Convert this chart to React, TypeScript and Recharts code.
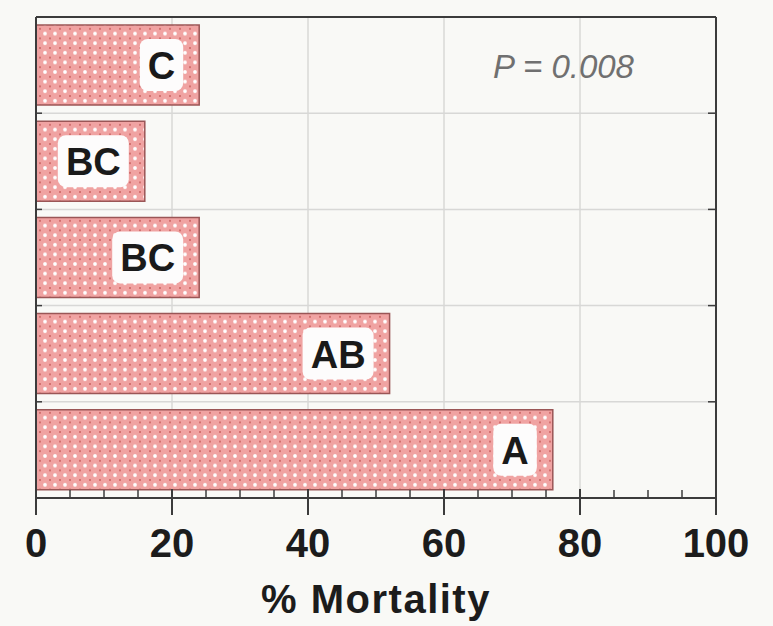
import React from 'react';
import { BarChart, Bar, XAxis, YAxis, CartesianGrid, ReferenceLine, LabelList, Customized } from 'recharts';

// treatment groups, top to bottom
const groups = ['T1', 'T2', 'T3', 'T4', 'T5'];
const mortality = [24, 16, 24, 52, 76];
const letters = ['C', 'BC', 'BC', 'AB', 'A'];

// every 5 % gets a tick, every 20 % a labelled major tick
const xTicks = [0, 5, 10, 15, 20, 25, 30, 35, 40, 45, 50, 55, 60, 65, 70, 75, 80, 85, 90, 95, 100];
const gridX = [20, 40, 60, 80];

const data = groups.map((g, i) => ({ group: g, mortality: mortality[i], letter: letters[i] }));

const FONT = '"Liberation Sans", Arial, Helvetica, sans-serif';
const AXIS = '#3c3c3c';
const GRID = '#d8d8d6';

const BottomTick = (props: any) => {
  const { x, y, payload } = props;
  const v = payload.value;
  if (v % 20 !== 0) {
    return <line x1={x} x2={x} y1={y} y2={y - 8} stroke={AXIS} strokeWidth={1.5} />;
  }
  return (
    <g>
      <line x1={x} x2={x} y1={y - 9} y2={y + 17} stroke={AXIS} strokeWidth={2} />
      <text x={x} y={y + 59} textAnchor="middle" fontFamily={FONT} fontWeight="bold" fontSize={40} fill="#1c1c1c">
        {v}
      </text>
    </g>
  );
};

const TopTick = (props: any) => {
  const { x, y, payload } = props;
  if (payload.value % 20 !== 0) {
    return <line x1={x} x2={x} y1={y} y2={y + 8} stroke={AXIS} strokeWidth={1.5} />;
  }
  return <line x1={x} x2={x} y1={y - 12} y2={y + 12} stroke={AXIS} strokeWidth={2} />;
};

// gridline between two groups, with inward ticks on both side axes
const BandEdge = (props: any) => {
  const { x1, x2, y1 } = props;
  return (
    <g>
      <line x1={x1} x2={x2} y1={y1} y2={y1} stroke={GRID} strokeWidth={1.5} />
      <line x1={x1} x2={x1 + 6} y1={y1} y2={y1} stroke={AXIS} strokeWidth={1.5} />
      <line x1={x2} x2={x2 - 8} y1={y1} y2={y1} stroke={AXIS} strokeWidth={1.5} />
    </g>
  );
};

// letter grouping drawn in a white box near the end of each bar
const LetterBox = (props: any) => {
  const { x, y, width, height, value } = props;
  const textW = String(value).length * 27.5;
  const right = x + width - 24;
  const cy = y + height / 2;
  return (
    <g>
      <rect x={right - textW - 8} y={cy - 26} width={textW + 16} height={52} rx={8} fill="#fdfcfc" />
      <text x={right} y={cy + 14} textAnchor="end" fontFamily={FONT} fontWeight="bold" fontSize={38} fill="#1a1a1a">
        {value}
      </text>
    </g>
  );
};

const PValue = () => (
  <text x={493} y={78} fontFamily={FONT} fontStyle="italic" fontSize={33} fill="#707070">
    P = 0.008
  </text>
);

export default function App() {
  return (
    <div style={{ position: 'absolute', left: 0, top: 0, width: 773, height: 626, background: '#f9f9f6' }}>
      <BarChart
        width={773}
        height={626}
        data={data}
        layout="vertical"
        margin={{ top: 16, right: 56, bottom: 127, left: 35 }}
      >
        <defs>
          <pattern id="dots" patternUnits="userSpaceOnUse" width={10} height={9.6}>
            <rect width={10} height={9.6} fill="#f0a3a2" />
            <circle cx={5} cy={4.8} r={1.9} fill="#ffffff" />
            <circle cx={0} cy={0} r={1} fill="#c9605f" />
            <circle cx={10} cy={0} r={1} fill="#c9605f" />
            <circle cx={0} cy={9.6} r={1} fill="#c9605f" />
            <circle cx={10} cy={9.6} r={1} fill="#c9605f" />
          </pattern>
        </defs>
        <CartesianGrid
          xAxisId="bottom"
          yAxisId="cat"
          horizontal={false}
          verticalValues={gridX}
          stroke={GRID}
          strokeWidth={1.5}
        />
        <XAxis
          xAxisId="top"
          orientation="top"
          type="number"
          domain={[0, 100]}
          ticks={xTicks}
          interval={0}
          height={1}
          tickSize={0}
          tickMargin={0}
          axisLine={{ stroke: AXIS, strokeWidth: 2 }}
          tickLine={false}
          tick={TopTick}
        />
        <YAxis
          yAxisId="cat"
          type="category"
          dataKey="group"
          width={1}
          tick={false}
          tickLine={false}
          axisLine={{ stroke: AXIS, strokeWidth: 2 }}
        />
        <YAxis
          yAxisId="catRight"
          orientation="right"
          type="category"
          dataKey="group"
          width={1}
          tick={false}
          tickLine={false}
          axisLine={{ stroke: AXIS, strokeWidth: 2 }}
        />
        <XAxis
          xAxisId="bottom"
          type="number"
          domain={[0, 100]}
          ticks={xTicks}
          interval={0}
          height={1}
          tickSize={0}
          tickMargin={0}
          axisLine={{ stroke: AXIS, strokeWidth: 2 }}
          tickLine={false}
          tick={BottomTick}
          label={{
            value: '% Mortality',
            position: 'bottom',
            offset: 86,
            style: { fontFamily: FONT, fontWeight: 'bold', fontSize: 40, fill: '#1c1c1c', letterSpacing: 1.5 },
          }}
        />
        {groups.slice(1).map((g) => (
          <ReferenceLine
            key={g}
            y={g}
            yAxisId="cat"
            xAxisId="bottom"
            position="start"
            shape={BandEdge}
          />
        ))}
        <Bar
          dataKey="mortality"
          xAxisId="bottom"
          yAxisId="cat"
          barSize={80}
          fill="url(#dots)"
          stroke="#9a5656"
          strokeWidth={1.5}
          isAnimationActive={false}
        >
          <LabelList dataKey="letter" content={LetterBox} />
        </Bar>
        <Customized component={PValue} />
      </BarChart>
    </div>
  );
}
